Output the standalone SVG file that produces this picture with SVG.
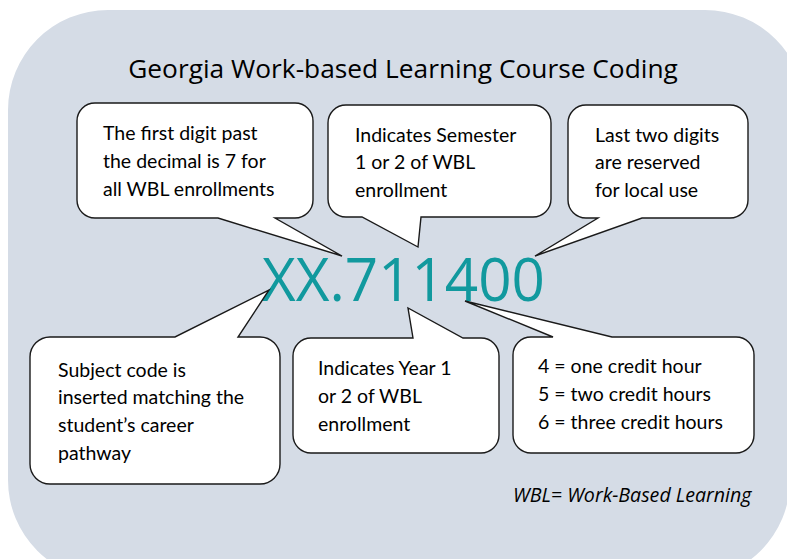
<svg xmlns="http://www.w3.org/2000/svg" width="787" height="559" viewBox="0 0 787 559">
<style>
.bg{fill:#d5dce6}
.call{fill:#ffffff;stroke:#1a1a1a;stroke-width:1.4;stroke-linejoin:miter}
.t{font-family:Lato,"Open Sans","Liberation Sans",sans-serif;font-size:19.5px;fill:#000}
.title{font-family:"Open Sans","Liberation Sans",sans-serif;font-size:26.3px;fill:#000}
.code{font-family:"Open Sans","Liberation Sans",sans-serif;font-size:61px;fill:#11999e}
.note{font-family:"Open Sans","Liberation Sans",sans-serif;font-style:italic;font-size:19.6px;fill:#000}
</style>
<path class="bg" d="M108,10 H705 A100,100 0 0 1 805,110 L790,480 A100,100 0 0 1 690,580 H108 A100,100 0 0 1 8,480 V110 A100,100 0 0 1 108,10 Z"/>
<text class="title" x="403" y="78" text-anchor="middle">Georgia Work-based Learning Course Coding</text>
<g id="code"><text class="code" x="262" y="301" textLength="283" lengthAdjust="spacingAndGlyphs">XX.711400</text></g>
<g id="connectors"></g>
<g id="c1">
<path class="call" d="M95,103 H295 A18,18 0 0 1 313,121 V200 A18,18 0 0 1 295,218 H275 L342,256 L218,218 H95 A18,18 0 0 1 77,200 V121 A18,18 0 0 1 95,103 Z"/>
<text class="t" x="103" y="140">The first digit past</text>
<text class="t" x="103" y="168">the decimal is 7 for</text>
<text class="t" x="103" y="196">all WBL enrollments</text>
</g>
<g id="c2">
<path class="call" d="M346,105 H533 A18,18 0 0 1 551,123 V199 A18,18 0 0 1 533,217 H421 L418,247 L362,217 H346 A18,18 0 0 1 328,199 V123 A18,18 0 0 1 346,105 Z"/>
<text class="t" x="355" y="142">Indicates Semester</text>
<text class="t" x="355" y="169">1 or 2 of WBL</text>
<text class="t" x="355" y="197">enrollment</text>
</g>
<g id="c3">
<path class="call" d="M586,105 H730 A18,18 0 0 1 748,123 V200 A18,18 0 0 1 730,218 H642 L535,256 L598,218 H586 A18,18 0 0 1 568,200 V123 A18,18 0 0 1 586,105 Z"/>
<text class="t" x="595" y="142">Last two digits</text>
<text class="t" x="595" y="169">are reserved</text>
<text class="t" x="595" y="197">for local use</text>
</g>
<g id="c4">
<path class="call" d="M50,337 H175 L269,290 L238,337 H260 A20,20 0 0 1 280,357 V464 A20,20 0 0 1 260,484 H50 A20,20 0 0 1 30,464 V357 A20,20 0 0 1 50,337 Z"/>
<text class="t" x="58" y="377">Subject code is</text>
<text class="t" x="58" y="404">inserted matching the</text>
<text class="t" x="58" y="432">student’s career</text>
<text class="t" x="58" y="460">pathway</text>
</g>
<g id="c5">
<path class="call" d="M311,338 H413 L408,308 L463,338 H481 A18,18 0 0 1 499,356 V435 A18,18 0 0 1 481,453 H311 A18,18 0 0 1 293,435 V356 A18,18 0 0 1 311,338 Z"/>
<text class="t" x="318" y="375">Indicates Year 1</text>
<text class="t" x="318" y="403">or 2 of WBL</text>
<text class="t" x="318" y="431">enrollment</text>
</g>
<g id="c6">
<path class="call" d="M531,337 H553 L465,301 L612,337 H736 A18,18 0 0 1 754,355 V435 A18,18 0 0 1 736,453 H531 A18,18 0 0 1 513,435 V355 A18,18 0 0 1 531,337 Z"/>
<text class="t" x="538" y="373">4 = one credit hour</text>
<text class="t" x="538" y="401">5 = two credit hours</text>
<text class="t" x="538" y="429">6 = three credit hours</text>
</g>
<text class="note" x="513" y="502">WBL= Work-Based Learning</text>
</svg>
